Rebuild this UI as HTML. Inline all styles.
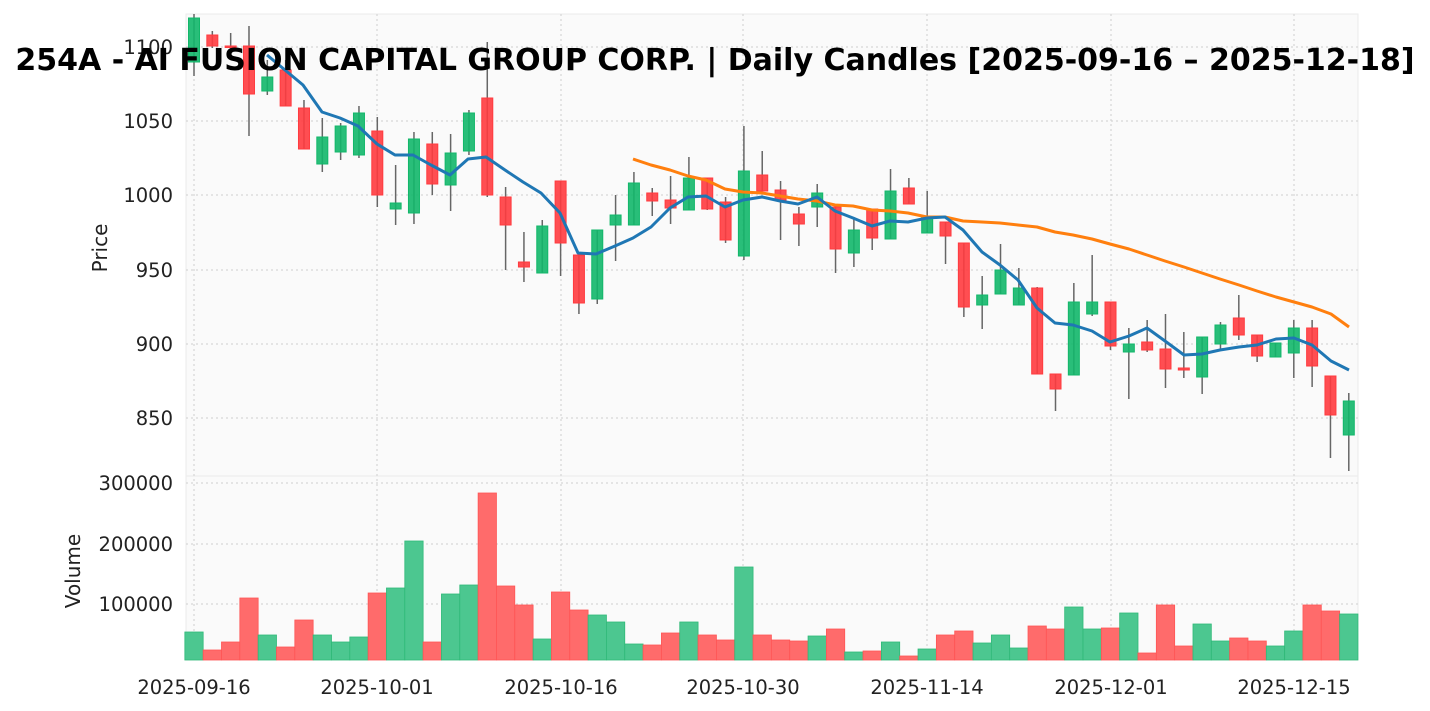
<!DOCTYPE html>
<html><head><meta charset="utf-8"><style>
body{margin:0;background:#fff;}
svg{display:block;font-family:"DejaVu Sans","Liberation Sans",sans-serif;}
</style></head><body>
<svg id="s" width="1430" height="711" xmlns="http://www.w3.org/2000/svg">
<rect x="186" y="14" width="1172" height="462" fill="#fafafa" stroke="#ebebeb"/>
<rect x="186" y="476" width="1172" height="184" fill="#fafafa" stroke="#ebebeb"/>
<g id="grid" stroke="#cfcfcf" stroke-width="1" stroke-dasharray="2,3"></g>
<g id="vol"></g>
<g id="cand"></g>
<polyline id="sma20" fill="none" stroke="#ff7f0e" stroke-width="3" stroke-linejoin="round"/>
<polyline id="sma5" fill="none" stroke="#1f77b4" stroke-width="3" stroke-linejoin="round"/>
<g font-size="19.5" fill="#222" text-anchor="end">
<text x="173" y="54">1100</text><text x="173" y="128">1050</text><text x="173" y="202">1000</text>
<text x="173" y="277">950</text><text x="173" y="351">900</text><text x="173" y="425">850</text>
<text x="173" y="490">300000</text><text x="173" y="551">200000</text><text x="173" y="611">100000</text>
</g>
<g font-size="19.5" fill="#222" text-anchor="middle">
<text x="194" y="694">2025-09-16</text><text x="377" y="694">2025-10-01</text><text x="561" y="694">2025-10-16</text>
<text x="743" y="694">2025-10-30</text><text x="927" y="694">2025-11-14</text><text x="1111" y="694">2025-12-01</text>
<text x="1294" y="694">2025-12-15</text>
</g>
<text transform="translate(107,248) rotate(-90)" font-size="20" fill="#222" text-anchor="middle">Price</text>
<text transform="translate(80,571) rotate(-90)" font-size="20" fill="#222" text-anchor="middle">Volume</text>
<text x="715" y="70" font-size="30" font-weight="bold" fill="#000" text-anchor="middle">254A - AI FUSION CAPITAL GROUP CORP. | Daily Candles [2025-09-16 – 2025-12-18]</text>
</svg>
<script>
var NS="http://www.w3.org/2000/svg";
function el(p,t,a){var e=document.createElementNS(NS,t);for(var k in a)e.setAttribute(k,a[k]);p.appendChild(e);return e;}
var C=[[18,62,14,76,1],[35,46,31,48,0],[46,47,33,52,0],[46,94,26,136,0],[77,91,60,95,1],[70,106,60,106,0],[108,149,100,149,0],[137,164,118,172,1],[126,152,123,160,1],[113,155,106,158,1],
[131,195,117,207,0],[203,209,165,225,1],[139,213,132,224,1],[144,184,132,195,0],[153,185,134,211,1],[113,151,110,155,1],[98,195,42,197,0],[197,225,187,270,0],[262,267,232,282,0],[226,273,220,273,1],
[181,243,181,276,0],[255,303,255,314,0],[230,299,230,304,1],[215,225,195,261,1],[183,225,172,225,1],[193,201,188,216,0],[200,208,176,224,0],[178,210,157,210,1],[178,209,178,210,0],[202,240,197,243,0],
[171,256,126,260,1],[175,191,151,191,0],[190,200,181,240,0],[214,224,207,246,0],[193,207,184,227,1],[207,249,204,273,0],[230,253,217,267,1],[209,238,209,250,0],[191,239,169,239,1],[188,204,178,204,0],
[217,233,191,233,1],[222,236,222,264,0],[243,307,243,317,0],[295,305,276,329,1],[270,294,244,294,1],[288,305,268,305,1],[288,374,287,374,0],[374,389,374,411,0],[302,375,283,375,1],[302,314,255,316,1],
[302,346,302,350,0],[344,352,328,399,1],[342,350,320,352,0],[349,369,314,388,0],[368,370,332,378,0],[337,377,337,394,1],[325,344,322,350,1],[318,335,295,340,0],[335,356,335,362,0],[343,357,343,357,1],
[328,353,320,378,1],[328,366,320,387,0],[376,415,376,458,0],[401,435,393,471,1]];
var V=[632,650,642,598,635,647,620,635,642,637,593,588,541,642,594,585,493,586,605,639,592,610,615,622,644,645,633,622,635,640,567,635,640,641,636,629,652,651,642,656,649,635,631,643,635,648,626,629,607,629,628,613,653,605,646,624,641,638,641,646,631,605,611,614];
var s=document.getElementById('s'),g=document.getElementById('grid'),cg=document.getElementById('cand'),vg=document.getElementById('vol');
[47,121,195,270,344,418].forEach(function(y){el(g,'line',{x1:186,x2:1358,y1:y,y2:y});});
[483,544,604].forEach(function(y){el(g,'line',{x1:186,x2:1358,y1:y,y2:y});});
[194,377,561,743,927,1111,1294].forEach(function(x){el(g,'line',{x1:x,x2:x,y1:14,y2:660});});
function X(i){return 194+i*18.33;}
C.forEach(function(c,i){var x=X(i),col=c[4]?'#12b76a':'#ff3b3f';
el(cg,'line',{x1:x,x2:x,y1:c[2],y2:c[3],stroke:'#666','stroke-width':1.5});
el(cg,'rect',{x:x-5.5,y:c[0],width:11,height:Math.max(1.5,c[1]-c[0]),fill:col,stroke:col,'stroke-width':1,'fill-opacity':0.9});
var vc=c[4]?'#4cc790':'#ff6b6b';
el(vg,'rect',{x:x-9.16,y:V[i],width:18.33,height:660-V[i],fill:vc,stroke:c[4]?'#2fb978':'#ff5555','stroke-width':0.8});
});
var b=[[267,55],[285,70],[303,85],[322,112],[340,118],[358,126],[377,144],[395,155],[413,155],[431,165],[450,175],[468,159],[486,157],[505,170],[523,182],[541,193],[560,213],[578,253],[596,254],[615,246],[633,238],[651,227],[670,208],[688,197],[706,196],[725,207],[743,200],[762,197],[780,201],[798,204],[817,197],[835,211],[853,218],[872,226],[890,221],[908,222],[927,218],[945,217],[963,230],[982,252],[1000,265],[1018,280],[1037,308],[1055,323],[1073,325],[1092,331],[1110,342],[1129,336],[1147,328],[1165,341],[1184,355],[1202,354],[1220,350],[1239,347],[1257,345],[1276,339],[1294,338],[1312,345],[1331,361],[1349,370]];
var o=[[633,159],[651,165],[670,170],[688,176],[706,180],[725,189],[743,192],[762,193],[780,196],[798,199],[817,201],[835,205],[853,206],[872,210],[890,211],[908,213],[927,217],[945,217],[963,221],[982,222],[1000,223],[1018,225],[1037,227],[1055,232],[1073,235],[1092,239],[1110,244],[1129,249],[1147,255],[1165,261],[1184,267],[1202,273],[1220,279],[1239,285],[1257,291],[1276,297],[1294,302],[1312,307],[1331,314],[1349,327]];
document.getElementById('sma5').setAttribute('points',b.map(function(p){return p.join(',')}).join(' '));
document.getElementById('sma20').setAttribute('points',o.map(function(p){return p.join(',')}).join(' '));
</script>
</body></html>
